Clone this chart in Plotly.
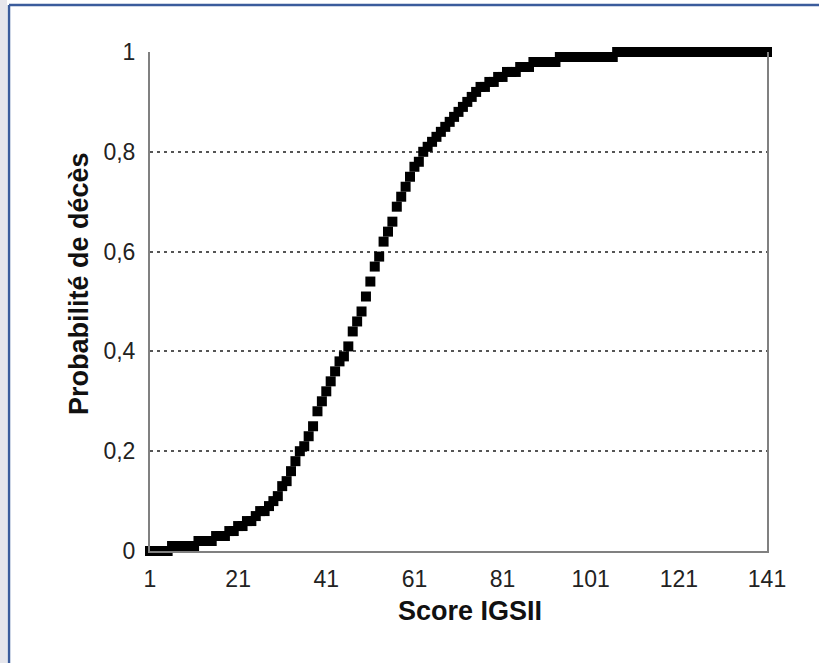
import plotly.graph_objects as go

# Scores (x categories) and death probability
scores = list(range(1, 142))
probabilities = [
    0.00, 0.00, 0.00, 0.00, 0.00, 0.01, 0.01, 0.01, 0.01, 0.01,   # 1-10
    0.01, 0.02, 0.02, 0.02, 0.02, 0.03, 0.03, 0.03, 0.04, 0.04,   # 11-20
    0.05, 0.05, 0.06, 0.06, 0.07, 0.08, 0.08, 0.09, 0.10, 0.11,   # 21-30
    0.13, 0.14, 0.16, 0.18, 0.20, 0.21, 0.23, 0.25, 0.28, 0.30,   # 31-40
    0.32, 0.34, 0.36, 0.38, 0.39, 0.41, 0.44, 0.46, 0.48, 0.51,   # 41-50
    0.54, 0.57, 0.59, 0.62, 0.64, 0.66, 0.69, 0.71, 0.73, 0.75,   # 51-60
    0.77, 0.78, 0.80, 0.81, 0.82, 0.83, 0.84, 0.85, 0.86, 0.87,   # 61-70
    0.88, 0.89, 0.90, 0.91, 0.92, 0.93, 0.93, 0.94, 0.94, 0.95,   # 71-80
    0.95, 0.96, 0.96, 0.96, 0.97, 0.97, 0.97, 0.98, 0.98, 0.98,   # 81-90
    0.98, 0.98, 0.98, 0.99, 0.99, 0.99, 0.99, 0.99, 0.99, 0.99,   # 91-100
    0.99, 0.99, 0.99, 0.99, 0.99, 0.99, 1.00, 1.00, 1.00, 1.00,   # 101-110
    1.00, 1.00, 1.00, 1.00, 1.00, 1.00, 1.00, 1.00, 1.00, 1.00,   # 111-120
    1.00, 1.00, 1.00, 1.00, 1.00, 1.00, 1.00, 1.00, 1.00, 1.00,   # 121-130
    1.00, 1.00, 1.00, 1.00, 1.00, 1.00, 1.00, 1.00, 1.00, 1.00,   # 131-140
    1.00,                                                         # 141
]

x_tick_vals = [1, 21, 41, 61, 81, 101, 121, 141]
y_tick_vals = [0, 0.2, 0.4, 0.6, 0.8, 1]
y_tick_text = ["0", "0,2", "0,4", "0,6", "0,8", "1"]

x_title = "Score IGSII"
y_title = "Probabilité de décès"

W, H = 819, 663
L, R, T, B = 150, 52, 52, 112
pw, ph = W - L - R, H - T - B


def px_x(px):
    # window pixel -> paper coordinate
    return (px - L) / pw


def px_y(py):
    return (H - B - py) / ph


fig = go.Figure()
fig.add_trace(go.Scatter(
    x=scores, y=probabilities, mode="markers",
    marker=dict(symbol="square", size=10, color="black", line=dict(width=0)),
    cliponaxis=False, showlegend=False, hoverinfo="x+y",
))

tick_font = dict(family="Liberation Sans, Arial, sans-serif", size=23, color="#222222")
title_font = dict(family="Liberation Sans, Arial, sans-serif", size=27, color="#111111")

fig.update_layout(
    width=W, height=H,
    margin=dict(l=L, r=R, t=T, b=B, autoexpand=False),
    paper_bgcolor="white", plot_bgcolor="white",
    showlegend=False,
    xaxis=dict(
        range=[1, 141], tickvals=x_tick_vals, ticks="", showgrid=False,
        showline=True, linecolor="#808080", linewidth=2, zeroline=False,
        tickfont=tick_font, ticklabelstandoff=6, automargin=False,
    ),
    yaxis=dict(
        range=[0, 1], tickvals=y_tick_vals, ticktext=y_tick_text, ticks="",
        showgrid=True, gridcolor="#555555", gridwidth=1.5, griddash="3px,4px",
        showline=True, linecolor="#808080", linewidth=2, mirror=True,
        zeroline=False, tickfont=tick_font, ticklabelstandoff=8, automargin=False,
    ),
    annotations=[
        dict(text="<b>" + x_title + "</b>", xref="paper", yref="paper",
             x=px_x(470), y=px_y(611), xanchor="center", yanchor="middle",
             showarrow=False, font=title_font),
        dict(text="<b>" + y_title + "</b>", xref="paper", yref="paper",
             x=px_x(79), y=px_y(284), xanchor="center", yanchor="middle",
             textangle=-90, showarrow=False, font=title_font),
    ],
    shapes=[
        dict(type="rect", xref="paper", yref="paper",
             x0=px_x(0), x1=px_x(7), y0=px_y(H), y1=px_y(0),
             fillcolor="#e6e6ec", line=dict(width=0), layer="below"),
        dict(type="line", xref="paper", yref="paper",
             x0=px_x(9), x1=px_x(W), y0=px_y(5), y1=px_y(5),
             line=dict(color="#3b5c9c", width=2.5)),
        dict(type="line", xref="paper", yref="paper",
             x0=px_x(9), x1=px_x(9), y0=px_y(H), y1=px_y(5),
             line=dict(color="#3b5c9c", width=2.5)),
    ],
)

# remove the default 8px page margin so the figure fills the window from (0, 0)
fig.write_html("out.html", config={"displayModeBar": False},
               post_script="document.body.style.margin='0px';")
